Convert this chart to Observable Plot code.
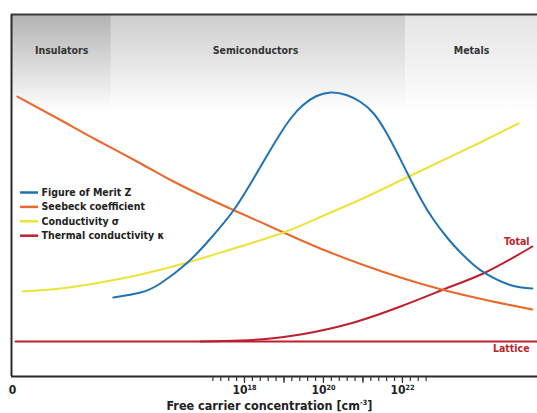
<!DOCTYPE html>
<html><head><meta charset="utf-8">
<script src="https://cdn.jsdelivr.net/npm/d3@7"></script>
<script src="https://cdn.jsdelivr.net/npm/@observablehq/plot@0.6"></script>
<style>
body{margin:0;background:#fff;}
#chart svg{display:block;}
</style>
</head><body><div id="chart"></div>
<script>
// x: log10 of free carrier concentration [cm^-3]; y: arbitrary units
const xDomain = [12.1, 25.42];
const yDomain = [0, 362];

const bandNames = ["Insulators", "Semiconductors", "Metals"];
const bandStart = [12.1, 14.63, 22.08];
const bandEnd = [14.63, 22.08, 25.42];
const bandLabelX = [13.37, 18.28, 23.75];
const bandTop = ["#b2b2b2", "#cdcdcd", "#e4e4e4"];

const meritX = [14.68, 15.37, 15.87, 16.56, 17.14, 17.72, 18.20, 18.58, 18.91, 19.19, 19.47, 19.80, 20.18, 20.58, 20.94, 21.27, 21.59, 21.90, 22.18, 22.48, 22.78, 23.14, 23.47, 23.77, 24.10, 24.73, 25.29];
const meritY = [79, 84, 93, 114, 138, 166, 196, 221.5, 243, 259, 271, 280, 284, 281.5, 274.5, 263, 244, 221, 199, 176.6, 157.3, 138.5, 124, 112.8, 103.1, 91.5, 88.1];

const seebeckX = [12.25, 13.34, 14.28, 15.37, 16.13, 16.89, 17.72, 18.99, 19.92, 20.94, 21.95, 23.04, 24.23, 25.29];
const seebeckY = [280, 256.5, 236, 213, 196.5, 181.5, 166.5, 144, 128, 112.5, 99, 86.5, 75.5, 67];

const condX = [12.38, 13.34, 14.35, 15.37, 16.56, 17.65, 18.99, 19.92, 20.94, 21.95, 22.96, 23.97, 24.94];
const condY = [85, 88, 94, 102, 114, 127, 144, 159.5, 177, 196, 215, 234, 253];

const totalX = [16.89, 17.90, 18.66, 19.42, 20.18, 20.68, 21.32, 21.95, 23.04, 24.10, 25.29];
const totalY = [35, 36, 38, 42, 48, 53, 61, 70, 87, 104, 130];

const latticeX = [12.2, 25.42];
const latticeY = [35, 35];

const seriesNames = ["Figure of Merit Z", "Seebeck coefficient", "Conductivity σ", "Thermal conductivity κ"];
const seriesColors = ["#1f73b5", "#e8692c", "#ebe33a", "#bd1f2d"];

const majorTicks = [18, 19, 20, 21, 22];
const minorTicks = d3.range(17.2, 22.61, 0.2).map(v => +v.toFixed(1));
const tickLabelX = [18, 20, 22];
const tickLabels = ["10^{18}", "10^{20}", "10^{22}"];
const zeroLabel = "0";
const xTitle = "Free carrier concentration [cm^{-3}]";

const FONT = '"Liberation Sans Narrow","DejaVu Sans Condensed","Arial Narrow",sans-serif';
const zip = (xs, ys) => xs.map((x, i) => ({x, y: ys[i]}));
const red = seriesColors[3];

const marks = [];
// header bands with gradients
bandNames.forEach((n, i) => {
  marks.push(Plot.rect([0], {x1: bandStart[i], x2: bandEnd[i], y1: 264, y2: 362, fill: `url(#bandgrad${i})`}));
});
marks.push(Plot.text(bandNames, {x: (d, i) => bandLabelX[i], y: 326, text: d => d, fontSize: 10.5, fontWeight: "bold", fill: "#333"}));

// frame
marks.push(Plot.ruleY([362], {x1: xDomain[0], x2: xDomain[1], stroke: "#3a3a3a", strokeWidth: 2}));
marks.push(Plot.ruleX([xDomain[0]], {y1: 0, y2: 362, stroke: "#2a2a2a", strokeWidth: 2}));
marks.push(Plot.ruleY([0], {x1: xDomain[0], x2: xDomain[1], stroke: "#2a2a2a", strokeWidth: 2}));

// ticks
marks.push(Plot.ruleX(minorTicks, {x: d => d, y1: 0, y2: -5, stroke: "#333", strokeWidth: 1.2}));
marks.push(Plot.ruleX(majorTicks, {x: d => d, y1: 0, y2: -7, stroke: "#333", strokeWidth: 1.2}));
marks.push(Plot.text(tickLabels, {x: (d, i) => tickLabelX[i], y: -14, text: d => d, fontSize: 12, fontWeight: "bold", fill: "#222"}));
marks.push(Plot.text([zeroLabel], {x: xDomain[0], y: -14, text: d => d, fontSize: 12, fontWeight: "bold", fill: "#222", dx: 1}));
marks.push(Plot.text([xTitle], {x: 18.63, y: -29, text: d => d, fontSize: 12.5, fontWeight: "bold", fill: "#222"}));

// series
marks.push(Plot.line(zip(latticeX, latticeY), {x: "x", y: "y", stroke: red, strokeWidth: 2}));
marks.push(Plot.line(zip(totalX, totalY), {x: "x", y: "y", stroke: red, strokeWidth: 2, curve: "monotone-x"}));
marks.push(Plot.line(zip(seebeckX, seebeckY), {x: "x", y: "y", stroke: seriesColors[1], strokeWidth: 2, curve: "natural"}));
marks.push(Plot.line(zip(condX, condY), {x: "x", y: "y", stroke: seriesColors[2], strokeWidth: 2, curve: "natural"}));
marks.push(Plot.line(zip(meritX, meritY), {x: "x", y: "y", stroke: seriesColors[0], strokeWidth: 2, curve: "natural"}));

marks.push(Plot.text(["Total"], {x: 25.22, y: 135, text: d => d, textAnchor: "end", fontSize: 10.5, fontWeight: "bold", fill: red}));
marks.push(Plot.text(["Lattice"], {x: 25.22, y: 28, text: d => d, textAnchor: "end", fontSize: 10.5, fontWeight: "bold", fill: red}));

// legend
seriesNames.forEach((n, i) => {
  const ly = 184 - i * 14.4;
  marks.push(Plot.ruleY([ly], {x1: 12.33, x2: 12.785, stroke: seriesColors[i], strokeWidth: 2.5}));
  marks.push(Plot.text([n], {x: 12.86, y: ly, text: d => d, textAnchor: "start", fontSize: 10.5, fontWeight: "bold", fill: "#222"}));
});

const chart = Plot.plot({
  width: 537,
  height: 413,
  marginLeft: 11,
  marginRight: 0,
  marginTop: 14,
  marginBottom: 37,
  x: {domain: xDomain, axis: null},
  y: {domain: yDomain, axis: null},
  style: {fontFamily: FONT, background: "#fff", overflow: "visible"},
  marks
});

// gradients
const svg = d3.select(chart);
const defs = svg.insert("defs", ":first-child");
bandTop.forEach((c, i) => {
  const g = defs.append("linearGradient").attr("id", `bandgrad${i}`).attr("x1", 0).attr("x2", 0).attr("y1", 0).attr("y2", 1);
  g.append("stop").attr("offset", "0%").attr("stop-color", c);
  g.append("stop").attr("offset", "100%").attr("stop-color", "#ffffff");
});

// superscripts
svg.selectAll("text").each(function() {
  const s = this.textContent;
  if (!s.includes("^{")) return;
  const fs = parseFloat(this.getAttribute("font-size") || getComputedStyle(this).fontSize) || 12;
  const parts = s.split(/\^\{([^}]*)\}/);
  const el = d3.select(this);
  el.text(null);
  parts.forEach((p, k) => {
    if (p === "") return;
    const t = el.append("tspan").text(p);
    if (k % 2 === 1) {
      t.attr("font-size", fs * 0.6).attr("dy", -fs * 0.38);
    } else if (k > 0) {
      t.attr("dy", fs * 0.38);
    }
  });
});

document.getElementById("chart").appendChild(chart);
</script>
</body></html>
